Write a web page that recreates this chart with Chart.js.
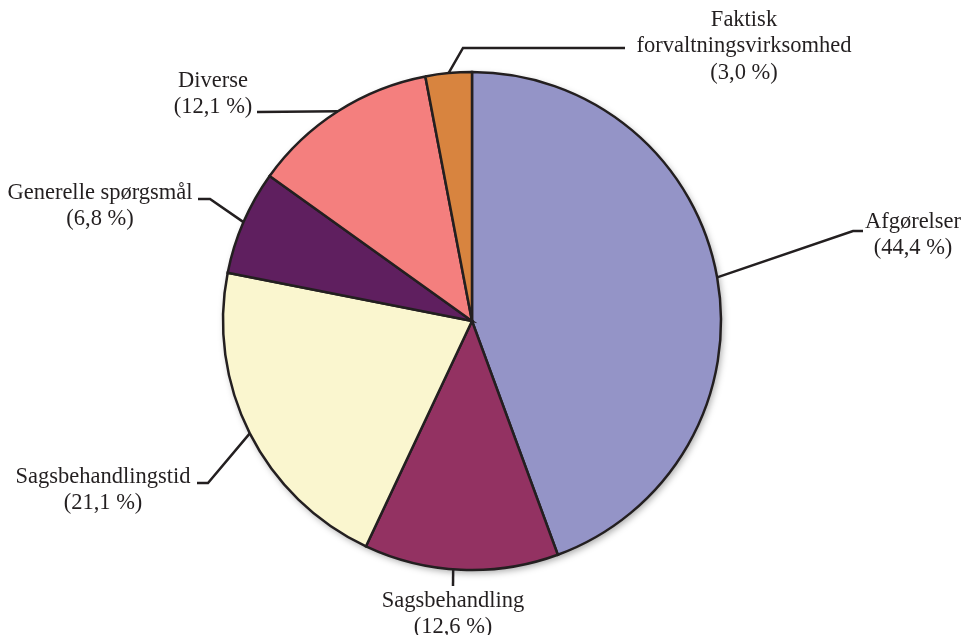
<!DOCTYPE html>
<html>
<head>
<meta charset="utf-8">
<script src="https://cdn.jsdelivr.net/npm/chart.js@4/dist/chart.umd.min.js"></script>
<style>
  html, body { margin: 0; padding: 0; background: #fff; }
  #wrap { width: 966px; height: 635px; }
</style>
</head>
<body>
<div id="wrap"><canvas id="pie"></canvas></div>
<script>
// Share of cases per category, clockwise from twelve o'clock
var categories = ['Afgørelser', 'Sagsbehandling', 'Sagsbehandlingstid', 'Generelle spørgsmål', 'Diverse', 'Faktisk forvaltningsvirksomhed'];
var labelLines = [['Afgørelser'], ['Sagsbehandling'], ['Sagsbehandlingstid'], ['Generelle spørgsmål'], ['Diverse'], ['Faktisk', 'forvaltningsvirksomhed']];
var shares = [44.4, 12.6, 21.1, 6.8, 12.1, 3.0];
var colors = ['#9494c7', '#933262', '#faf6cf', '#5f1f5f', '#f47f7e', '#d8843f'];

var ink = '#231f20';

// Callout placement, in pixels relative to the pie centre.
// at = where along the slice the leader leaves the rim (0..1), bends = elbow points, text = centre of first line
var callouts = [
  { at: 0.5,  bends: [[381, -90], [391, -90]],   text: [441, -99] },
  { at: 0.54, bends: [[-19, 265]],               text: [-19, 280] },
  { at: 0.5,  bends: [[-264, 162], [-275, 162]], text: [-369, 156] },
  { at: 0.5,  bends: [[-262, -122], [-274, -122]], text: [-372, -128] },
  { at: 0.5,  bends: [[-215, -209]],             text: [-259, -240] },
  { at: 0.5,  bends: [[-9, -273], [153, -273]],  text: [272, -301] }
];

function fmt(v) {
  return '(' + v.toFixed(1).replace('.', ',') + '\u00a0%)';
}

// soft shadow under the disc
var pieShadow = {
  id: 'pieShadow',
  beforeDatasetsDraw: function(chart) {
    var arc = chart.getDatasetMeta(0).data[0];
    var ctx = chart.ctx;
    ctx.save();
    ctx.shadowColor = 'rgba(0,0,0,0.35)';
    ctx.shadowBlur = 7;
    ctx.shadowOffsetX = 2;
    ctx.shadowOffsetY = 3;
    ctx.fillStyle = '#fff';
    ctx.beginPath();
    ctx.arc(arc.x, arc.y, arc.outerRadius, 0, Math.PI * 2);
    ctx.fill();
    ctx.restore();
  }
};

// leader lines and labels
var calloutPlugin = {
  id: 'callouts',
  afterDatasetsDraw: function(chart) {
    var ctx = chart.ctx;
    var meta = chart.getDatasetMeta(0);
    ctx.save();
    ctx.strokeStyle = ink;
    ctx.fillStyle = ink;
    ctx.lineWidth = 2.5;
    ctx.lineJoin = 'miter';
    ctx.font = '22.5px "Liberation Serif", serif';
    ctx.textAlign = 'center';
    ctx.textBaseline = 'middle';
    meta.data.forEach(function(arc, i) {
      var c = callouts[i];
      var a = arc.startAngle + (arc.endAngle - arc.startAngle) * c.at;
      var r = arc.outerRadius;
      ctx.beginPath();
      ctx.moveTo(arc.x + Math.cos(a) * r, arc.y + Math.sin(a) * r);
      c.bends.forEach(function(p) { ctx.lineTo(arc.x + p[0], arc.y + p[1]); });
      ctx.stroke();
      var lines = labelLines[i].concat([fmt(shares[i])]);
      lines.forEach(function(t, k) {
        ctx.fillText(t, arc.x + c.text[0], arc.y + c.text[1] + k * 26.5);
      });
    });
    ctx.restore();
  }
};

new Chart(document.getElementById('pie'), {
  type: 'pie',
  data: {
    labels: categories,
    datasets: [{
      data: shares,
      backgroundColor: colors,
      borderColor: ink,
      borderWidth: 2.5,
      borderJoinStyle: 'miter'
    }]
  },
  options: {
    responsive: true,
    maintainAspectRatio: false,
    animation: false,
    radius: 249,
    layout: { padding: { left: 0, right: 22, top: 7, bottom: 0 } },
    plugins: {
      legend: { display: false },
      tooltip: { enabled: false }
    }
  },
  plugins: [pieShadow, calloutPlugin]
});
</script>
</body>
</html>
